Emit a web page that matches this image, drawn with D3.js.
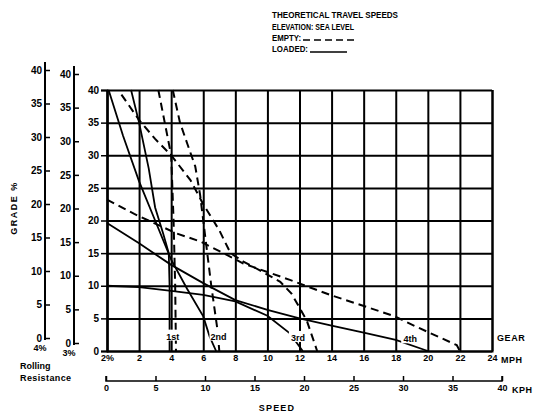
<!DOCTYPE html>
<html><head><meta charset="utf-8">
<script src="https://cdn.jsdelivr.net/npm/d3@7"></script>
<style>
body{margin:0;background:#fff;}
svg{display:block;font-family:"Liberation Sans",Arial,sans-serif;font-weight:bold;}
text{fill:#000;}
</style></head><body>
<svg id="c" width="538" height="418"></svg>
<script>
// ---- data ----
const mphTicks = [0,2,4,6,8,10,12,14,16,18,20,22,24];
const mphLabels = ["2%","2","4","6","8","10","12","14","16","18","20","22","24"];
const kphTicks = [0,5,10,15,20,25,30,35,40];
const gradeTicks = [0,5,10,15,20,25,30,35,40];
const rrLabels = ["4%","3%"];
const gears = ["1st","2nd","3rd","4th"];
const gearLabelPos = [[4.1,2.2],[6.95,2.2],[11.9,2.0],[18.9,1.8]];
// loaded (solid) curves: [mph, grade %]
const loaded1 = [[1.5,40],[2,35],[2.6,28],[3,22],[3.5,18],[3.85,15],[3.9,10],[3.9,0]];
const loaded2 = [[0.1,40],[1,33],[2,26],[3,20],[4,14],[5,9.5],[6,5.3],[6.4,2.2],[6.8,0]];
const loaded3 = [[0,10],[2,9.8],[4,9.2],[6,8.6],[8,7.6],[10,5.4],[11.4,2.7],[12.2,0]];
const loaded4 = [[0,19.6],[2,16.5],[4,13.2],[6,10.4],[8,7.8],[10,6.3],[12,5],[14,3.9],[16,2.8],[18,1.7],[20,0]];
// empty (dashed) curves
const empty1 = [[3.2,40],[3.6,35],[4.0,30],[4.15,20],[4.25,10],[4.3,0]];
const empty2 = [[4.1,40],[4.55,35],[5.0,31.8],[5.5,28.3],[5.8,24],[6.1,18],[6.5,10],[6.9,3],[7.0,0]];
const empty3 = [[0.9,39.3],[2,35.4],[3,32.5],[4,30],[5.2,26.2],[6,22.5],[7,18.5],[7.7,15],[8.5,13.7],[9.5,12.4],[10.8,10.6],[11.5,8.8],[12.45,4.7],[13.1,0]];
const empty4 = [[0,23.2],[1.7,21],[4.35,18],[5.8,16.8],[7.25,15],[8.5,13.4],[11.4,10.9],[13.9,8.6],[17.85,5.4],[19.3,3.7],[21.8,0.9],[22,0]];

const loadedCurves = [loaded1,loaded2,loaded3,loaded4];
const emptyCurves = [empty1,empty2,empty3,empty4];

// ---- scales ----
const x = d3.scaleLinear().domain([0,24]).range([107,492]);
const y = d3.scaleLinear().domain([0,40]).range([351,90]);
const y4 = d3.scaleLinear().domain([0,40]).range([338,70]);
const y3 = d3.scaleLinear().domain([0,40]).range([343,74]);
const xk = d3.scaleLinear().domain([0,40]).range([106,502]);

const svg = d3.select("#c");
const FONT = "Liberation Sans, Arial";

// grid
const gx = svg.append("g").attr("transform",`translate(0,${y(0)})`)
  .call(d3.axisBottom(x).tickValues(mphTicks).tickSize(-(y(0)-y(40))).tickFormat(""));
gx.selectAll("line").attr("stroke","#000").attr("stroke-width",2);
gx.select(".domain").attr("stroke","#000").attr("stroke-width",2);
const gy = svg.append("g").attr("transform",`translate(${x(0)},0)`)
  .call(d3.axisLeft(y).tickValues(gradeTicks).tickSize(-(x(24)-x(0))).tickFormat(""));
gy.selectAll("line").attr("stroke","#000").attr("stroke-width",2);
gy.select(".domain").remove();

// main grade axis
const ga = svg.append("g").attr("transform",`translate(${x(0)},0)`)
  .call(d3.axisLeft(y).tickValues(gradeTicks).tickSize(6).tickPadding(2));
ga.select(".domain").attr("stroke","#000").attr("stroke-width",2);
ga.selectAll("line").attr("stroke","#000").attr("stroke-width",1.5);
ga.selectAll("text").attr("font-size",10).attr("font-family",FONT).attr("font-weight","bold");

// rolling resistance axes
[[y4,45,rrLabels[0]],[y3,74,rrLabels[1]]].forEach(([sc,px,lab])=>{
  const g = svg.append("g").attr("transform",`translate(${px},0)`)
    .call(d3.axisLeft(sc).tickValues(gradeTicks).tickSize(-5).tickPadding(3));
  g.select(".domain").attr("d",`M0,${sc(41.2)}V${sc(-0.3)}`).attr("stroke","#000").attr("stroke-width",2);
  g.selectAll("line").attr("stroke","#000").attr("stroke-width",1.5);
  g.selectAll("text").attr("font-size",10).attr("font-family",FONT).attr("font-weight","bold");
  svg.append("text").attr("x",px-5).attr("y",sc(0)+13).attr("text-anchor","middle")
    .attr("font-size",9).text(lab);
});
svg.append("text").attr("x",20).attr("y",369).attr("font-size",9).text("Rolling");
svg.append("text").attr("x",20).attr("y",381).attr("font-size",9).attr("letter-spacing",0.4).text("Resistance");
svg.append("text").attr("transform",`translate(17,208) rotate(-90)`).attr("text-anchor","middle")
  .attr("font-size",9).attr("letter-spacing",1.5).text("GRADE %");

// mph axis labels
const ma = svg.append("g").attr("transform",`translate(0,${y(0)})`)
  .call(d3.axisBottom(x).tickValues(mphTicks).tickSize(0).tickPadding(4).tickFormat((d,i)=>mphLabels[i]));
ma.select(".domain").remove();
ma.selectAll("text").attr("font-size",9).attr("font-family",FONT).attr("font-weight","bold");
svg.append("text").attr("x",x(24)+9).attr("y",y(0)+12).attr("font-size",9).attr("letter-spacing",0.5).text("MPH");

// kph axis
const ka = svg.append("g").attr("transform",`translate(0,381)`)
  .call(d3.axisTop(xk).tickValues(kphTicks).tickSize(5).tickFormat(""));
ka.select(".domain").attr("d",`M${xk(0)},-5V0H${xk(40)}V-5`).attr("stroke","#000").attr("stroke-width",1.5).attr("fill","none");
ka.selectAll("line").attr("stroke","#000").attr("stroke-width",1.5);
const kl = svg.append("g").attr("transform",`translate(0,381)`)
  .call(d3.axisBottom(xk).tickValues(kphTicks).tickSize(0).tickPadding(4));
kl.select(".domain").remove();
kl.selectAll("text").attr("font-size",9).attr("font-family",FONT).attr("font-weight","bold");
svg.append("text").attr("x",xk(40)+10).attr("y",393).attr("font-size",9).attr("letter-spacing",0.5).text("KPH");
svg.append("text").attr("x",277).attr("y",411).attr("text-anchor","middle").attr("font-size",9).attr("letter-spacing",1.2).text("SPEED");

// curves
const line = d3.line().x(d=>x(d[0])).y(d=>y(d[1]));
svg.append("g").selectAll("path").data(loadedCurves).join("path")
  .attr("d",line).attr("fill","none").attr("stroke","#000").attr("stroke-width",1.8);
svg.append("g").selectAll("path").data(emptyCurves).join("path")
  .attr("d",line).attr("fill","none").attr("stroke","#000").attr("stroke-width",2).attr("stroke-dasharray","8,5");

// gear labels
const gl = svg.append("g").selectAll("g").data(gears).join("g")
  .attr("transform",(d,i)=>`translate(${x(gearLabelPos[i][0])},${y(gearLabelPos[i][1])})`);
gl.append("rect").attr("x",-9).attr("y",-7).attr("width",18).attr("height",11).attr("fill","#fff");
gl.append("text").attr("text-anchor","middle").attr("y",3).attr("font-size",9).text(d=>d);
svg.append("text").attr("x",x(24)+5).attr("y",y(2)+3).attr("font-size",9).attr("letter-spacing",0.6).text("GEAR");

// title & legend
svg.append("text").attr("x",272).attr("y",18).attr("font-size",8.5).attr("textLength",126).attr("lengthAdjust","spacingAndGlyphs").text("THEORETICAL TRAVEL SPEEDS");
svg.append("text").attr("x",272).attr("y",30).attr("font-size",8.5).attr("textLength",82).attr("lengthAdjust","spacingAndGlyphs").text("ELEVATION: SEA LEVEL");
svg.append("text").attr("x",272).attr("y",41).attr("font-size",8.5).attr("textLength",29).attr("lengthAdjust","spacingAndGlyphs").text("EMPTY:");
svg.append("text").attr("x",272).attr("y",52).attr("font-size",8.5).attr("textLength",36).attr("lengthAdjust","spacingAndGlyphs").text("LOADED:");
svg.append("path").attr("d",d3.line()([[303,40],[354,40]])).attr("stroke","#000").attr("stroke-width",1.5).attr("stroke-dasharray","7,4");
svg.append("path").attr("d",d3.line()([[310,52],[347,52]])).attr("stroke","#000").attr("stroke-width",1.5);
</script>
</body></html>
